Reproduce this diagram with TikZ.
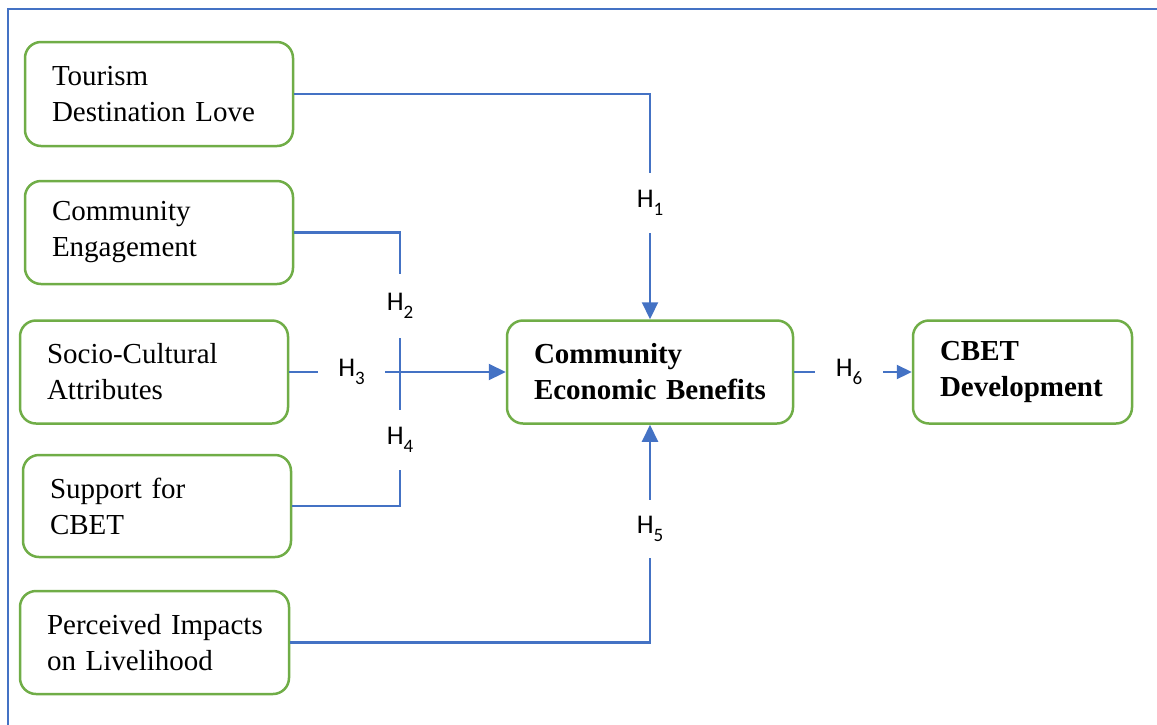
\documentclass[tikz,border=0pt]{standalone}
\usepackage{fontspec}
\setmainfont{Liberation Serif}
\newfontfamily\hfont{Carlito}
\usetikzlibrary{arrows.meta}
\definecolor{lblue}{HTML}{4472C4}
\definecolor{lgreen}{HTML}{70AD47}
\newcommand\Hlab[1]{H\raisebox{-0.3em}{\fontsize{19}{19}\selectfont #1}}
\begin{document}
\begin{tikzpicture}[x=1pt,y=-1pt,
  box/.style={draw=lgreen, line width=2.5pt, rounded corners=16pt, fill=white,
    align=left, inner xsep=27pt, inner ysep=0pt, anchor=center,
    font=\fontsize{29}{36}\selectfont},
  conn/.style={draw=lblue, line width=2.2pt},
  arr/.style={conn, -{Triangle[length=17pt,width=16pt]}},
  arrs/.style={conn, -{Triangle[length=15pt,width=14pt]}},
  hl/.style={inner sep=0pt, anchor=center, font=\hfont\fontsize{27}{30}\selectfont},
  frame/.style={draw=lblue, line width=2pt}
]
\useasboundingbox (0,0) rectangle (1157,724);
\clip (0,0) rectangle (1157,724);
\draw[frame] (1170,9) -- (8,9) -- (8,740);

\node[box, minimum width=268pt, minimum height=104pt, text width=214pt] (n1) at (159,94) {\mbox{Tourism}\\\mbox{Destination Love}};
\node[box, minimum width=268pt, minimum height=103pt, text width=214pt] (n2) at (159,232.5) {\mbox{Community}\\\mbox{Engagement}};
\node[box, minimum width=268pt, minimum height=103pt, text width=214pt] (n3) at (154,372) {\mbox{Socio-Cultural}\\\mbox{Attributes}};
\node[box, minimum width=268pt, minimum height=102pt, text width=214pt] (n4) at (157,506) {\mbox{Support for}\\\mbox{CBET}};
\node[box, minimum width=269pt, minimum height=103pt, text width=215pt] (n5) at (154.5,642.5) {\mbox{Perceived Impacts}\\\mbox{on Livelihood}};
\node[box, minimum width=286pt, minimum height=103pt, text width=232pt, font=\fontsize{29}{36}\selectfont\bfseries] (ceb) at (650,372) {\mbox{Community}\\\mbox{Economic Benefits}};
\node[box, minimum width=219pt, minimum height=103pt, text width=165pt, font=\fontsize{29}{36}\selectfont\bfseries] (cbet) at (1022.5,372) {\mbox{CBET}\\\mbox{Development}};

\node[hl, minimum height=60pt] (h1) at (650,203) {\Hlab{1}};
\node[hl, minimum height=64pt] (h2) at (400,306) {\Hlab{2}};
\node[hl, minimum width=67pt] (h3) at (351.5,372) {\Hlab{3}};
\node[hl, minimum height=60pt] (h4) at (400,440) {\Hlab{4}};
\node[hl, minimum height=58pt] (h5) at (650,529) {\Hlab{5}};
\node[hl, minimum width=68pt] (h6) at (849,372) {\Hlab{6}};

\draw[conn] (n1.east) -| (h1.north);
\draw[arr] (h1.south) -- (ceb.north);
\draw[conn] (n2.east) -| (h2.north);
\draw[conn] (h2.south) -- (h4.north);
\draw[conn] (n4.east) -| (h4.south);
\draw[conn] (n3.east) -- (h3.west);
\draw[arr] (h3.east) -- (ceb.west);
\draw[conn] (n5.east) -| (h5.south);
\draw[arr] (h5.north) -- (ceb.south);
\draw[conn] (ceb.east) -- (h6.west);
\draw[arrs] (h6.east) -- (cbet.west);
\end{tikzpicture}
\end{document}
